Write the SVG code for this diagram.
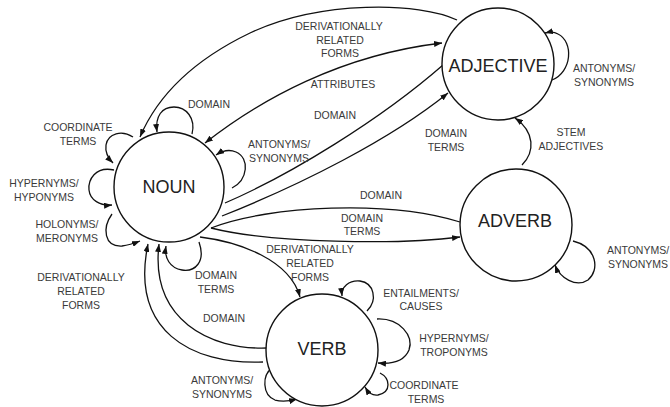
<svg xmlns="http://www.w3.org/2000/svg" width="670" height="407" viewBox="0 0 670 407">
<style>
.node{fill:#fff;stroke:#111;stroke-width:1.4}
.nl{font-family:"Liberation Sans",Arial,sans-serif;font-size:18px;fill:#222;text-anchor:middle}
.e{fill:none;stroke:#111;stroke-width:1.3}
.a{marker-end:url(#ah)}
.b{marker-start:url(#ah);marker-end:url(#ah)}
.l{font-family:"Liberation Sans",Arial,sans-serif;font-size:10.5px;fill:#3a3a3a;text-anchor:middle}
</style>
<defs>
<marker id="ah" viewBox="0 0 8 6" refX="8" refY="3" markerWidth="8" markerHeight="6" orient="auto-start-reverse" markerUnits="userSpaceOnUse">
<path d="M0,0 L8,3 L0,6 z" fill="#111"/>
</marker>
</defs>
<rect width="670" height="407" fill="#fff"/>
<g id="connectors">
<path class="e a" d="M457,20 C420,2 320,0 250,33 C200,57 160,90 140,137"/>
<path class="e b" d="M205,143 C260,100 340,55 442,43"/>
<path class="e" d="M225,203 C290,175 380,120 443,65"/>
<path class="e a" d="M222,216 C300,185 390,140 448,93"/>
<path class="e" d="M211,228 C270,205 390,200 460,222"/>
<path class="e a" d="M211,228 C270,243 400,245 460,237"/>
<path class="e a" d="M200,237 C240,242 290,260 300,297"/>
<path class="e a" d="M267,348 C210,350 150,320 159,244"/>
<path class="e a" d="M263,362 C190,365 130,330 148,244"/>
<path class="e a" d="M199,242 C206,262 195,272 182,270 C170,268 164,258 166,246"/>
<path class="e a" d="M112,214 C102,228 104,247 122,246 C130,245 135,243 140,241"/>
<path class="e a" d="M114,170 C95,166 88,180 89,190 C90,200 100,206 112,205"/>
<path class="e a" d="M133,137 C122,130 108,133 106,145 C105,152 108,158 113,163"/>
<path class="e a" d="M192,134 C196,118 186,107 174,107 C162,107 155,116 157,132"/>
<path class="e a" d="M232,188 C248,180 250,158 236,152 C229,149 222,151 216,155"/>
<path class="e a" d="M552,80 C572,72 574,42 558,34 C553,31 549,32 545,33"/>
<path class="e a" d="M522,165 C535,152 535,132 515,118"/>
<path class="e a" d="M573,241 C597,247 600,270 588,280 C576,288 560,278 555,265"/>
<path class="e a" d="M367,311 C378,300 374,283 360,281 C349,280 341,287 342,296"/>
<path class="e a" d="M377,319 C400,318 414,336 409,350 C404,362 390,364 378,363"/>
<path class="e a" d="M380,373 C390,378 392,392 378,395 C372,396 368,392 365,387"/>
<path class="e a" d="M272,368 C262,375 262,395 275,400 C282,402 290,401 297,399"/>
</g>
<g id="labels">
<text class="l" x="339" y="30">DERIVATIONALLY</text>
<text class="l" x="340" y="43.5">RELATED</text>
<text class="l" x="340" y="57">FORMS</text>
<text class="l" x="343" y="88">ATTRIBUTES</text>
<text class="l" x="335" y="119">DOMAIN</text>
<text class="l" x="279" y="148">ANTONYMS/</text>
<text class="l" x="279" y="162">SYNONYMS</text>
<text class="l" x="446" y="137">DOMAIN</text>
<text class="l" x="446" y="151">TERMS</text>
<text class="l" x="571" y="136">STEM</text>
<text class="l" x="571" y="150">ADJECTIVES</text>
<text class="l" x="604" y="72">ANTONYMS/</text>
<text class="l" x="604" y="86">SYNONYMS</text>
<text class="l" x="381" y="199">DOMAIN</text>
<text class="l" x="362" y="222">DOMAIN</text>
<text class="l" x="362" y="235">TERMS</text>
<text class="l" x="638" y="254">ANTONYMS/</text>
<text class="l" x="638" y="268">SYNONYMS</text>
<text class="l" x="209" y="108">DOMAIN</text>
<text class="l" x="78" y="131">COORDINATE</text>
<text class="l" x="78" y="145">TERMS</text>
<text class="l" x="44" y="187">HYPERNYMS/</text>
<text class="l" x="44" y="201">HYPONYMS</text>
<text class="l" x="67" y="228">HOLONYMS/</text>
<text class="l" x="67" y="242">MERONYMS</text>
<text class="l" x="81" y="281">DERIVATIONALLY</text>
<text class="l" x="81" y="295">RELATED</text>
<text class="l" x="81" y="309">FORMS</text>
<text class="l" x="216" y="279">DOMAIN</text>
<text class="l" x="216" y="293">TERMS</text>
<text class="l" x="224" y="322">DOMAIN</text>
<text class="l" x="222" y="384">ANTONYMS/</text>
<text class="l" x="222" y="398">SYNONYMS</text>
<text class="l" x="310" y="253">DERIVATIONALLY</text>
<text class="l" x="310" y="267">RELATED</text>
<text class="l" x="310" y="281">FORMS</text>
<text class="l" x="421" y="297">ENTAILMENTS/</text>
<text class="l" x="421" y="310">CAUSES</text>
<text class="l" x="454" y="342">HYPERNYMS/</text>
<text class="l" x="454" y="356">TROPONYMS</text>
<text class="l" x="424" y="389">COORDINATE</text>
<text class="l" x="426" y="403">TERMS</text>
</g>
<g id="noun"><circle class="node" cx="169" cy="187" r="55"/><text class="nl" x="169" y="193">NOUN</text></g>
<g id="adjective"><circle class="node" cx="498" cy="64" r="56"/><text class="nl" x="498" y="72">ADJECTIVE</text></g>
<g id="adverb"><circle class="node" cx="516" cy="225" r="56"/><text class="nl" x="515" y="227">ADVERB</text></g>
<g id="verb"><circle class="node" cx="322" cy="350" r="56"/><text class="nl" x="322" y="355">VERB</text></g>
</svg>
